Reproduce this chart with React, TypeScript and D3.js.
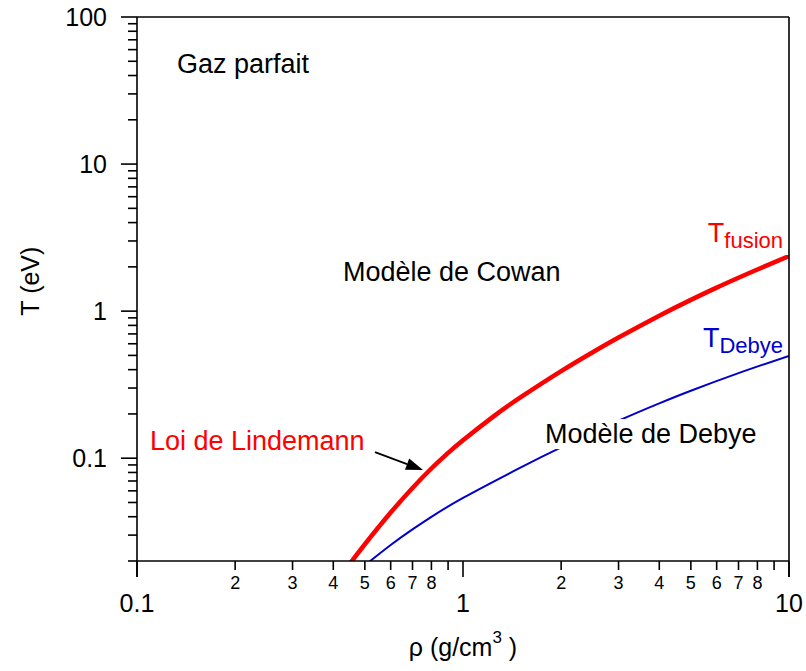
import React, { useEffect, useRef } from "react";
import * as d3 from "d3";

// density (g/cm3) and temperatures (eV)
const rhoFusion = [0.45, 0.5, 0.6, 0.7, 0.8, 0.9, 1, 1.25, 1.5, 2, 2.5, 3, 4, 5, 6, 7, 8, 10];
const tFusion = [0.0192, 0.026, 0.0427, 0.0628, 0.0851, 0.1086, 0.1327, 0.1949, 0.2589, 0.3906, 0.5255, 0.6612, 0.9314, 1.193, 1.445, 1.686, 1.919, 2.367];

const rhoDebye = [0.5, 0.6, 0.7, 0.8, 1, 1.5, 2, 3, 4, 5, 7, 10];
const tDebye = [0.0187, 0.0257, 0.0328, 0.0399, 0.0537, 0.0862, 0.1183, 0.1797, 0.236, 0.2874, 0.3787, 0.4966];

const xMajor = [0.1, 1, 10];
const xMajorLabels = ["0.1", "1", "10"];
const xMinorLabelled = [2, 3, 4, 5, 6, 7, 8];
const yMajor = [0.1, 1, 10, 100];
const yMajorLabels = ["0.1", "1", "10", "100"];

// region labels, anchored in data space
const regionLabels = [
  { text: "Gaz parfait", rho: 0.1326, t: 41.6, color: "#000000" },
  { text: "Modèle de Cowan", rho: 0.4284, t: 1.603, color: "#000000" },
  { text: "Loi de Lindemann", rho: 0.1096, t: 0.1137, color: "#ff0000" },
];
const debyeModelLabel = { text: "Modèle de Debye", rho: 1.784, t: 0.1268 };
const arrowFrom = [0.537, 0.11];
const arrowTo = [0.754, 0.0832];

const FONT = "'Liberation Sans', Arial, sans-serif";

export default function App() {
  const svgRef = useRef<SVGSVGElement | null>(null);

  useEffect(() => {
    document.body.style.margin = "0";
    if (!svgRef.current) return;
    const svg = d3.select(svgRef.current);
    svg.selectAll("*").remove();

    const width = 806;
    const height = 671;
    const left = 137, right = 789, top = 17, bottom = 561;

    svg.attr("width", width).attr("height", height);

    const x = d3.scaleLog().domain([0.1, 10]).range([left, right]);
    const y = d3.scaleLog().domain([0.02, 100]).range([bottom, top]);

    svg.append("rect").attr("width", width).attr("height", height).attr("fill", "#fff");

    svg.append("defs").append("clipPath").attr("id", "plot-clip")
      .append("rect")
      .attr("x", left).attr("y", top)
      .attr("width", right - left).attr("height", bottom - top);

    const line = d3.line<[number, number]>()
      .x((d) => x(d[0]))
      .y((d) => y(d[1]))
      .curve(d3.curveNatural);

    const curves = svg.append("g").attr("clip-path", "url(#plot-clip)");

    curves.append("path")
      .datum(rhoDebye.map((r, i) => [r, tDebye[i]] as [number, number]))
      .attr("d", line)
      .attr("fill", "none")
      .attr("stroke", "#0000cc")
      .attr("stroke-width", 2);

    curves.append("path")
      .datum(rhoFusion.map((r, i) => [r, tFusion[i]] as [number, number]))
      .attr("d", line)
      .attr("fill", "none")
      .attr("stroke", "#ff0000")
      .attr("stroke-width", 4.5);

    // "Modèle de Debye" sits on a white box that hides the blue curve
    const debyeG = svg.append("g");
    const debyeText = debyeG.append("text")
      .attr("x", x(debyeModelLabel.rho))
      .attr("y", y(debyeModelLabel.t))
      .attr("font-family", FONT)
      .attr("font-size", 27)
      .attr("fill", "#000")
      .text(debyeModelLabel.text);
    const bb = (debyeText.node() as SVGTextElement).getBBox();
    debyeG.insert("rect", "text")
      .attr("x", bb.x - 4).attr("y", bb.y)
      .attr("width", bb.width + 8).attr("height", bb.height)
      .attr("fill", "#fff");

    // axes frame
    const axes = svg.append("g").attr("stroke", "#000").attr("stroke-width", 1.6);
    axes.append("line").attr("x1", left).attr("x2", left).attr("y1", top).attr("y2", bottom + 16);
    axes.append("line").attr("x1", right).attr("x2", right).attr("y1", top).attr("y2", bottom + 16);
    axes.append("line").attr("x1", left).attr("x2", right).attr("y1", top).attr("y2", top);
    axes.append("line").attr("x1", left).attr("x2", right).attr("y1", bottom).attr("y2", bottom);

    // x ticks
    const xMinor: number[] = [];
    [0.1, 1].forEach((d) => { for (let k = 2; k <= 9; k++) xMinor.push(k * d); });
    axes.selectAll(".xminor").data(xMinor).enter().append("line")
      .attr("x1", (d) => x(d)).attr("x2", (d) => x(d))
      .attr("y1", bottom).attr("y2", bottom + 9);
    axes.selectAll(".xmajor").data(xMajor).enter().append("line")
      .attr("x1", (d) => x(d)).attr("x2", (d) => x(d))
      .attr("y1", bottom).attr("y2", bottom + 16);

    // y ticks
    const yMinor: number[] = [];
    [0.01, 0.1, 1, 10].forEach((d) => {
      for (let k = 2; k <= 9; k++) {
        const v = k * d;
        if (v >= 0.02 - 1e-9 && v <= 100) yMinor.push(v);
      }
    });
    axes.selectAll(".yminor").data(yMinor).enter().append("line")
      .attr("x1", left - 9).attr("x2", left)
      .attr("y1", (d) => y(d)).attr("y2", (d) => y(d));
    axes.selectAll(".ymajor").data(yMajor).enter().append("line")
      .attr("x1", left - 16).attr("x2", left)
      .attr("y1", (d) => y(d)).attr("y2", (d) => y(d));

    // tick labels
    const labels = svg.append("g").attr("font-family", FONT).attr("fill", "#000");
    const digit = (d: number) => Math.round(d / (d < 1 ? 0.1 : 1));
    labels.selectAll(".xml").data(xMinor.filter((d) => xMinorLabelled.includes(digit(d))))
      .enter().append("text")
      .attr("x", (d) => x(d)).attr("y", bottom + 28)
      .attr("text-anchor", "middle").attr("font-size", 18)
      .text((d) => String(digit(d)));
    labels.selectAll(".xMl").data(xMajor).enter().append("text")
      .attr("x", (d) => x(d)).attr("y", bottom + 51)
      .attr("text-anchor", "middle").attr("font-size", 25)
      .text((d, i) => xMajorLabels[i]);
    labels.selectAll(".yMl").data(yMajor).enter().append("text")
      .attr("x", left - 30).attr("y", (d) => y(d) + 9)
      .attr("text-anchor", "end").attr("font-size", 25)
      .text((d, i) => yMajorLabels[i]);

    // axis titles
    const xt = labels.append("text")
      .attr("x", x(1)).attr("y", 656)
      .attr("text-anchor", "middle").attr("font-size", 25);
    xt.append("tspan").text("ρ (g/cm");
    xt.append("tspan").attr("font-size", 17).attr("dy", -13).text("3");
    xt.append("tspan").attr("dy", 13).text(" )");

    labels.append("text")
      .attr("transform", `translate(39, ${y(1) - 30}) rotate(-90)`)
      .attr("text-anchor", "middle").attr("font-size", 25)
      .text("T (eV)");

    // region annotations
    svg.append("g").selectAll("text").data(regionLabels).enter().append("text")
      .attr("x", (d) => x(d.rho)).attr("y", (d) => y(d.t))
      .attr("font-family", FONT).attr("font-size", 27)
      .attr("fill", (d) => d.color)
      .text((d) => d.text);

    // curve names with subscripts
    const curveNames = [
      { main: "T", sub: "fusion", rho: 9.586, t: 2.95, color: "#ff0000" },
      { main: "T", sub: "Debye", rho: 9.586, t: 0.5705, color: "#0000cc" },
    ];
    curveNames.forEach((c) => {
      const t = svg.append("text")
        .attr("x", x(c.rho)).attr("y", y(c.t))
        .attr("text-anchor", "end")
        .attr("font-family", FONT).attr("fill", c.color);
      t.append("tspan").attr("font-size", 27).text(c.main);
      t.append("tspan").attr("font-size", 22).attr("dy", 6).text(c.sub);
    });

    // arrow pointing to the Lindemann curve
    const x0 = x(arrowFrom[0]), y0 = y(arrowFrom[1]);
    const x1 = x(arrowTo[0]), y1 = y(arrowTo[1]);
    const ang = Math.atan2(y1 - y0, x1 - x0);
    const headLen = 17, headW = 6;
    const bx = x1 - headLen * Math.cos(ang), by = y1 - headLen * Math.sin(ang);
    svg.append("line")
      .attr("x1", x0).attr("y1", y0).attr("x2", bx).attr("y2", by)
      .attr("stroke", "#000").attr("stroke-width", 1.8);
    svg.append("path")
      .attr("d", `M${x1},${y1}L${bx + headW * Math.sin(ang)},${by - headW * Math.cos(ang)}L${bx - headW * Math.sin(ang)},${by + headW * Math.cos(ang)}Z`)
      .attr("fill", "#000");
  }, []);

  return <svg ref={svgRef} style={{ display: "block" }} />;
}
